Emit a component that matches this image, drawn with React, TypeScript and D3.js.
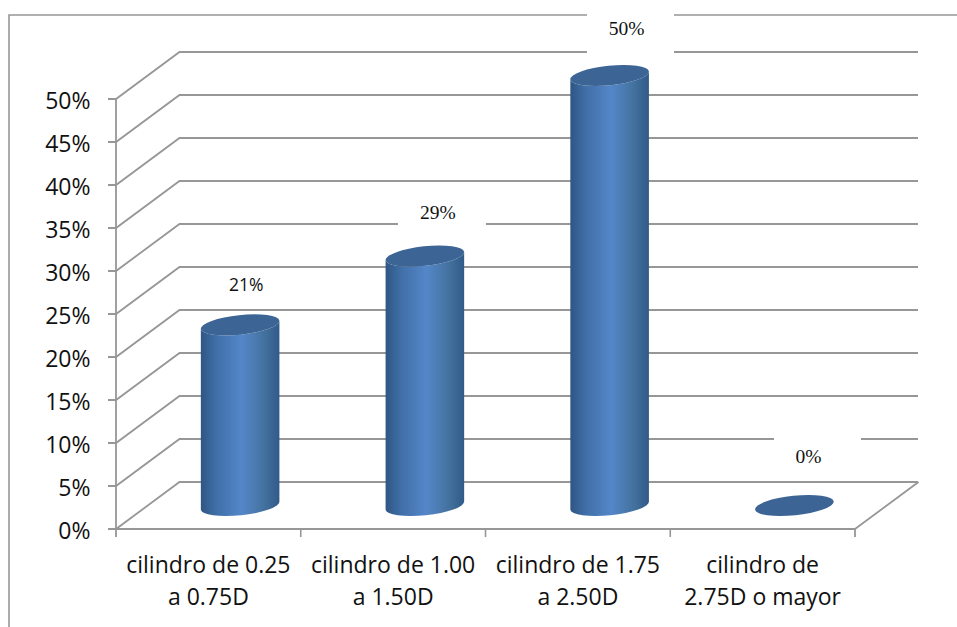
import React from "react";
import * as d3 from "d3";

const categories = [
  ["cilindro de 0.25", "a 0.75D"],
  ["cilindro de 1.00", "a 1.50D"],
  ["cilindro de 1.75", "a 2.50D"],
  ["cilindro de", "2.75D o mayor"],
];
const values = [21, 29, 50, 0];
const valueLabels = ["21%", "29%", "50%", "0%"];
const yTicks = [0, 5, 10, 15, 20, 25, 30, 35, 40, 45, 50];

const W = 957;
const H = 627;
const GRID = "#979797";
const SANS = "'Open Sans', sans-serif";
const SERIF = "'Liberation Serif', serif";

// Oblique depth of the 3D box
const DX = 63.5;
const DY = -47;

const y = d3.scaleLinear().domain([0, 50]).range([529, 99]);
const x = d3
  .scaleBand<number>()
  .domain(d3.range(categories.length))
  .range([116, 855]);

const TILT = -6;
const RX = 39.5;
const RY = 9.8;
const cos = Math.cos((TILT * Math.PI) / 180);
const sin = Math.sin((TILT * Math.PI) / 180);

// Label placement and the white plate behind each data label
const labelStyle = [
  { dx: 6, y: 285, font: SANS, size: 17.5, plate: null },
  { dx: 13, y: 212, font: SERIF, size: 19.5, plate: { x0: 398, x1: 486, y0: 190, y1: 246 } },
  { dx: 17, y: 28, font: SERIF, size: 19.5, plate: { x0: 587, x1: 674, y0: 0, y1: 62 } },
  { dx: 14, y: 456, font: SERIF, size: 19.5, plate: { x0: 774, x1: 861, y0: 428, y1: 474 } },
];

function Cylinder({ value, index }: { value: number; index: number }) {
  const cx = x(index)! + x.bandwidth() / 2 + DX / 2;
  const baseY = y(0) + DY / 2;
  const topY = y(value) + DY / 2;
  const ox = RX * cos;
  const oy = RX * sin;
  const side = [
    `M${cx - ox},${topY - oy}`,
    `L${cx - ox},${baseY - oy}`,
    `A${RX},${RY} ${TILT} 0 0 ${cx + ox},${baseY + oy}`,
    `L${cx + ox},${topY + oy}`,
    `A${RX},${RY} ${TILT} 0 1 ${cx - ox},${topY - oy}`,
    "Z",
  ].join(" ");
  return (
    <g>
      {value > 0 && <path d={side} fill="url(#cylinderSide)" />}
      <ellipse
        cx={cx}
        cy={topY}
        rx={RX}
        ry={RY}
        fill="#3c6595"
        transform={`rotate(${TILT} ${cx} ${topY})`}
      />
    </g>
  );
}

export default function App() {
  const right = x.range()[1];
  const left = x.range()[0];
  return (
    <svg
      width={W}
      height={H}
      viewBox={`0 0 ${W} ${H}`}
      style={{ position: "absolute", left: 0, top: 0, background: "#fff" }}
    >
      <defs>
        <linearGradient id="cylinderSide" x1="0" x2="1" y1="0" y2="0">
          <stop offset="0" stopColor="#2f5684" />
          <stop offset="0.2" stopColor="#406fa8" />
          <stop offset="0.52" stopColor="#5487c9" />
          <stop offset="0.8" stopColor="#44729f" />
          <stop offset="1" stopColor="#315a88" />
        </linearGradient>
      </defs>

      <path d={`M${W},15 H9 V${H}`} fill="none" stroke={GRID} strokeWidth={1.6} />

      {yTicks.map((t) => (
        <path
          key={t}
          d={`M108,${y(t)} H${left} L${left + DX},${y(t) + DY} H${right + DX - 0.5}`}
          stroke={GRID}
          strokeWidth={1.8}
          fill="none"
        />
      ))}
      <path
        d={`M${left},${y(50)} V${y(0) + 8} M${left},${y(0)} H${right} V${y(0) + 8} M${right},${y(0)} L${right + DX},${y(0) + DY}`}
        fill="none"
        stroke={GRID}
        strokeWidth={1.8}
      />
      {x.domain().slice(1).map((i) => (
        <line key={i} x1={x(i)} x2={x(i)} y1={y(0)} y2={y(0) + 8} stroke={GRID} strokeWidth={1.6} />
      ))}

      {yTicks.map((t) => (
        <text
          key={t}
          x={90.5}
          y={y(t) + 9.5}
          textAnchor="end"
          fontFamily={SANS}
          fontSize={23}
          fill="#111"
        >
          {t}%
        </text>
      ))}

      {categories.map((lines, i) => (
        <text
          key={i}
          textAnchor="middle"
          fontFamily={SANS}
          fontSize={23}
          fill="#111"
        >
          {lines.map((line, k) => (
            <tspan key={k} x={x(i)! + x.bandwidth() / 2} y={572.5 + k * 32.5}>
              {line}
            </tspan>
          ))}
        </text>
      ))}

      {labelStyle.map((s, i) =>
        s.plate ? (
          <rect
            key={i}
            x={s.plate.x0}
            y={s.plate.y0}
            width={s.plate.x1 - s.plate.x0}
            height={s.plate.y1 - s.plate.y0}
            fill="#fff"
          />
        ) : null
      )}

      {values.map((v, i) => (
        <Cylinder key={i} value={v} index={i} />
      ))}

      {values.map((v, i) => {
        const s = labelStyle[i];
        const cx = x(i)! + x.bandwidth() / 2 + DX / 2 + s.dx;
        return (
          <text
            key={i}
            x={cx}
            y={s.y}
            dy="0.35em"
            textAnchor="middle"
            fontFamily={s.font}
            fontSize={s.size}
            fill="#111"
          >
            {valueLabels[i]}
          </text>
        );
      })}
    </svg>
  );
}
